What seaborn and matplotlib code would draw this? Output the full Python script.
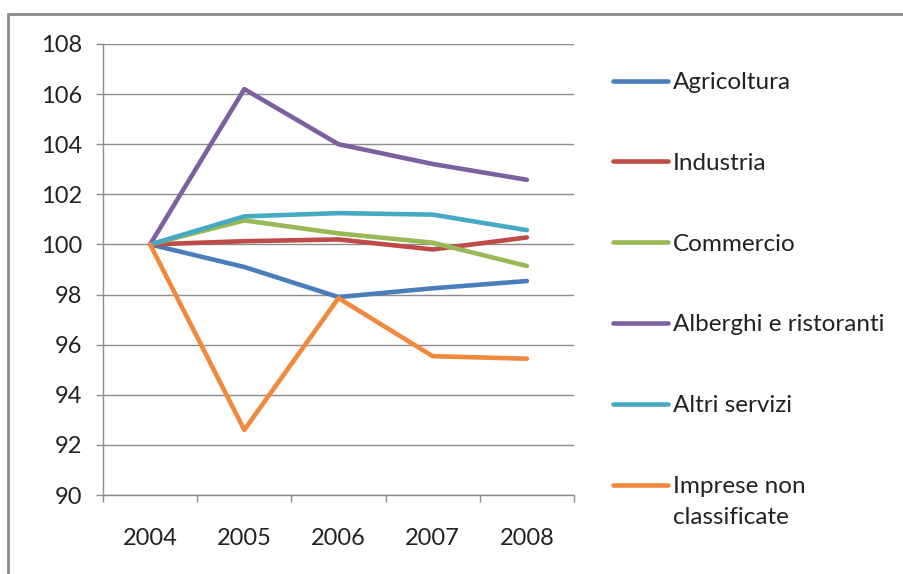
import matplotlib
matplotlib.use("Agg")
import matplotlib.pyplot as plt
from matplotlib.patches import Rectangle
from matplotlib.ticker import MultipleLocator, FixedLocator
from matplotlib.lines import Line2D
import seaborn as sns
import pandas as pd

years = ["2004", "2005", "2006", "2007", "2008"]
agricoltura = [100.0, 99.1, 97.9, 98.25, 98.54]
industria = [100.0, 100.13, 100.2, 99.8, 100.28]
commercio = [100.0, 100.96, 100.44, 100.07, 99.14]
alberghi = [100.0, 106.2, 104.0, 103.21, 102.58]
altri_servizi = [100.0, 101.12, 101.25, 101.19, 100.57]
imprese_nc = [100.0, 92.6, 97.86, 95.54, 95.44]

series_names = ["Agricoltura", "Industria", "Commercio", "Alberghi e ristoranti",
                "Altri servizi", "Imprese non classificate"]
legend_first_lines = ["Agricoltura", "Industria", "Commercio", "Alberghi e ristoranti",
                      "Altri servizi", "Imprese non"]
legend_extra_line = "classificate"
series_values = [agricoltura, industria, commercio, alberghi, altri_servizi, imprese_nc]
colors = ["#4A7EBB", "#BE4B48", "#98B954", "#7D60A0", "#46AAC5", "#F0883E"]

rows = []
for name, vals in zip(series_names, series_values):
    for i, (y, v) in enumerate(zip(years, vals)):
        rows.append({"pos": i, "anno": y, "serie": name, "valore": v})
df = pd.DataFrame(rows)

sns.set_style("white")
plt.rcParams["font.family"] = ["Lato", "DejaVu Sans"]

fig = plt.figure(figsize=(9.04, 5.74), dpi=100)
W, H = 904, 574
ax = fig.add_axes([103 / W, 1 - 495 / H, (574 - 103) / W, (495 - 44) / H])

sns.lineplot(data=df, x="pos", y="valore", hue="serie", palette=colors,
             hue_order=series_names, linewidth=3.3, ax=ax, legend=False,
             solid_capstyle="round", solid_joinstyle="round")

ax.set_xlim(-0.5, len(years) - 0.5)
ax.set_ylim(90, 108)
ax.yaxis.set_major_locator(MultipleLocator(2))
ax.set_xticks(range(len(years)))
ax.set_xticklabels(years)
ax.xaxis.set_minor_locator(FixedLocator([i - 0.5 for i in range(len(years) + 1)]))
ax.set_xlabel("")
ax.set_ylabel("")

ax.grid(axis="y", color="#8c8c8c", linewidth=1)
ax.set_axisbelow(True)
for s in ["top", "right"]:
    ax.spines[s].set_visible(False)
for s in ["left", "bottom"]:
    ax.spines[s].set_color("#8c8c8c")
    ax.spines[s].set_linewidth(1)

FS = 17
ax.tick_params(axis="y", which="major", length=5, width=1, color="#8c8c8c",
               pad=10, labelsize=FS, labelcolor="#222222", left=True, direction="out")
ax.tick_params(axis="x", which="major", length=0, pad=24, labelsize=FS,
               labelcolor="#222222", bottom=True)
ax.tick_params(axis="x", which="minor", length=5, width=1, color="#8c8c8c",
               bottom=True, direction="out")

LFS = 17.5
handles = [Line2D([0], [0], color=c, lw=3.3) for c in colors]
leg = fig.legend(handles, legend_first_lines, loc="upper left",
                 bbox_to_anchor=(613 / W, 1 - 72 / H), frameon=False,
                 fontsize=LFS, handlelength=2.26, handletextpad=0.2,
                 labelspacing=2.46, borderpad=0, borderaxespad=0)
for t in leg.get_texts():
    t.set_color("#222222")

fig.canvas.draw()
last = leg.get_texts()[-1]
bb = last.get_window_extent(renderer=fig.canvas.get_renderer())
fig.text(bb.x0 / W, (bb.y0 - 31) / H, legend_extra_line, fontsize=LFS,
         color="#222222", ha="left", va="bottom")

fig.add_artist(Rectangle((8 / W, -0.1), 1.2, 1 - 14 / H + 0.1,
                         transform=fig.transFigure, fill=False,
                         edgecolor="#8a8a8a", linewidth=2))

fig.savefig("out.png", dpi=100)
